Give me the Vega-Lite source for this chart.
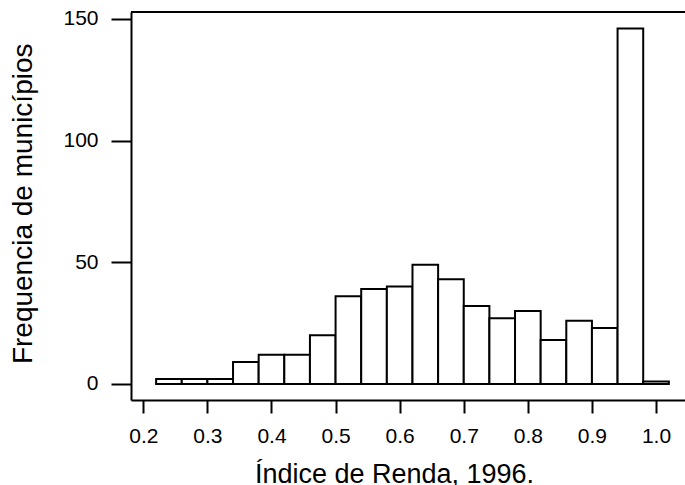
{
  "$schema": "https://vega.github.io/schema/vega-lite/v6.json",
  "autosize": {"type": "none"},
  "padding": {"left": 131, "top": 12, "right": 0, "bottom": 85},
  "width": 554,
  "height": 388,
  "background": "white",
  "config": {"view": {"stroke": null}, "font": "Liberation Sans"},
  "data": {
    "values": [
      {"start": 0.22, "end": 0.26, "count": 2},
      {"start": 0.26, "end": 0.30, "count": 2},
      {"start": 0.30, "end": 0.34, "count": 2},
      {"start": 0.34, "end": 0.38, "count": 9},
      {"start": 0.38, "end": 0.42, "count": 12},
      {"start": 0.42, "end": 0.46, "count": 12},
      {"start": 0.46, "end": 0.50, "count": 20},
      {"start": 0.50, "end": 0.54, "count": 36},
      {"start": 0.54, "end": 0.58, "count": 39},
      {"start": 0.58, "end": 0.62, "count": 40},
      {"start": 0.62, "end": 0.66, "count": 49},
      {"start": 0.66, "end": 0.70, "count": 43},
      {"start": 0.70, "end": 0.74, "count": 32},
      {"start": 0.74, "end": 0.78, "count": 27},
      {"start": 0.78, "end": 0.82, "count": 30},
      {"start": 0.82, "end": 0.86, "count": 18},
      {"start": 0.86, "end": 0.90, "count": 26},
      {"start": 0.90, "end": 0.94, "count": 23},
      {"start": 0.94, "end": 0.98, "count": 146},
      {"start": 0.98, "end": 1.02, "count": 1}
    ]
  },
  "layer": [
    {
      "mark": {"type": "rect", "fill": "white", "stroke": "black", "strokeWidth": 2},
      "encoding": {
        "x": {
          "field": "start",
          "type": "quantitative",
          "scale": {"domain": [0.1808, 1.0452], "nice": false, "zero": false},
          "axis": {
            "values": [0.2, 0.3, 0.4, 0.5, 0.6, 0.7, 0.8, 0.9, 1.0],
            "format": ".1f",
            "grid": false,
            "domainColor": "black",
            "domainWidth": 2,
            "tickColor": "black",
            "tickWidth": 2,
            "tickSize": 13,
            "labelFont": "Liberation Sans",
            "labelFontSize": 21,
            "labelColor": "black",
            "labelPadding": 12,
            "labelFlush": false,
            "labelOverlap": false,
            "title": "Índice de Renda, 1996.",
            "titleFont": "Liberation Sans",
            "titleFontSize": 27,
            "titleFontWeight": "normal",
            "titleColor": "black",
            "titleX": 263,
            "titleY": 82.5,
            "titleBaseline": "alphabetic",
            "titleAlign": "center"
          }
        },
        "x2": {"field": "end"},
        "y": {
          "field": "count",
          "type": "quantitative",
          "scale": {"domain": [-6.6, 152.8], "nice": false, "zero": false},
          "axis": {
            "values": [0, 50, 100, 150],
            "grid": false,
            "domainColor": "black",
            "domainWidth": 2,
            "tickColor": "black",
            "tickWidth": 2,
            "tickSize": 20,
            "labelFont": "Liberation Sans",
            "labelFontSize": 21,
            "labelColor": "black",
            "labelPadding": 13,
            "labelFlush": false,
            "labelOverlap": false,
            "title": "Frequencia de municípios",
            "titleFont": "Liberation Sans",
            "titleFontSize": 28,
            "titleFontWeight": "normal",
            "titleColor": "black",
            "titleAngle": 270,
            "titleX": -99.3,
            "titleY": 191.3,
            "titleBaseline": "alphabetic",
            "titleAlign": "center"
          }
        },
        "y2": {"datum": 0}
      }
    },
    {
      "mark": {"type": "rule", "stroke": "black", "strokeWidth": 2},
      "encoding": {"y": {"datum": 152.8}}
    }
  ]
}
